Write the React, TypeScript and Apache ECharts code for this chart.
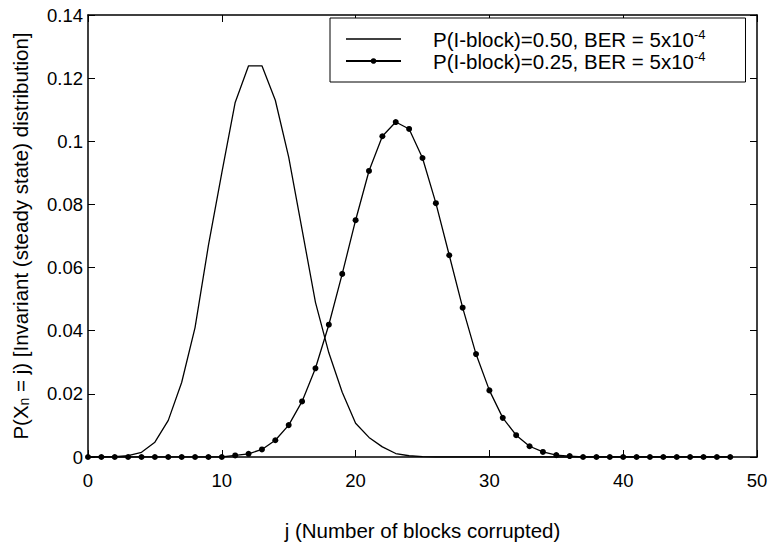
import React, { useEffect, useRef } from "react";
import * as echarts from "echarts";

const seriesNames = [
  "P(I-block)=0.50, BER = 5x10^-4",
  "P(I-block)=0.25, BER = 5x10^-4",
];

// j = 0..48
const jValues = [
  0, 1, 2, 3, 4, 5, 6, 7, 8, 9, 10, 11, 12, 13, 14, 15, 16, 17, 18, 19, 20, 21, 22, 23, 24,
  25, 26, 27, 28, 29, 30, 31, 32, 33, 34, 35, 36, 37, 38, 39, 40, 41, 42, 43, 44, 45, 46, 47, 48,
];

const pHalf = [
  0, 0, 0.0001, 0.0004, 0.0015, 0.0047, 0.0116, 0.0236, 0.041, 0.067, 0.09, 0.1123, 0.1239,
  0.1239, 0.113, 0.095, 0.072, 0.049, 0.033, 0.0205, 0.0107, 0.0062, 0.0032, 0.0011, 0.0004,
  0.0001, 0, 0, 0, 0, 0, 0, 0, 0, 0, 0, 0, 0, 0, 0, 0, 0, 0, 0, 0, 0, 0, 0, 0,
];

const pQuarter = [
  0, 0, 0, 0, 0, 0, 0, 0, 0, 0, 0, 0.0005, 0.001, 0.0024, 0.0053, 0.0101, 0.0176, 0.0281,
  0.0419, 0.058, 0.075, 0.0906, 0.1016, 0.1061, 0.1039, 0.0947, 0.0804, 0.0639, 0.0473,
  0.0326, 0.0211, 0.0124, 0.0069, 0.0034, 0.0016, 0.0006, 0.0003, 0, 0, 0, 0, 0, 0, 0, 0, 0,
  0, 0, 0,
];

const xTicks = [0, 10, 20, 30, 40, 50];
const yTicks = ["0", "0.02", "0.04", "0.06", "0.08", "0.1", "0.12", "0.14"];

const FONT = "'Liberation Sans', Arial, Helvetica, sans-serif";

export default function App() {
  const ref = useRef<HTMLDivElement>(null);
  useEffect(() => {
    if (!ref.current) return;
    const chart = echarts.init(ref.current, undefined, { renderer: "svg" });
    const axisCommon = {
      axisLine: { show: true, onZero: false, lineStyle: { color: "#000", width: 1.5 } },
      axisTick: { show: true, inside: true, length: 7, lineStyle: { color: "#000", width: 1 } },
      splitLine: { show: false },
    };
    chart.setOption({
      animation: false,
      backgroundColor: "#fff",
      textStyle: { fontFamily: FONT },
      grid: { left: 88, right: 16, top: 15, bottom: 89, containLabel: false },
      legend: {
        orient: "vertical",
        left: 330,
        top: 18,
        padding: [10, 40, 10, 15],
        itemGap: 0,
        itemWidth: 55,
        itemHeight: 7,
        backgroundColor: "#fff",
        borderColor: "#000",
        borderWidth: 1,
        borderRadius: 0,
        data: [
          {
            name: seriesNames[0],
            itemStyle: { color: "rgba(0,0,0,0)", borderColor: "rgba(0,0,0,0)", borderWidth: 0 },
            lineStyle: { color: "#000", width: 1.3 },
          },
          { name: seriesNames[1] },
        ],
        formatter: (name: string) => {
          const parts = name.split("^");
          return parts[0] + "{sup|" + parts[1] + "}";
        },
        textStyle: {
          fontFamily: FONT,
          fontSize: 20.5,
          color: "#000",
          padding: [0, 0, 0, 27],
          lineHeight: 22,
          rich: {
            sup: { fontFamily: FONT, fontSize: 13, color: "#000", verticalAlign: "top", lineHeight: 14 },
          },
        },
      },
      xAxis: [
        {
          type: "value",
          min: 0,
          max: 50,
          interval: 10,
          position: "bottom",
          ...axisCommon,
          axisLabel: {
            color: "#000",
            fontFamily: FONT,
            fontSize: 18.5,
            margin: 14,
            formatter: (v: number) => String(xTicks[xTicks.indexOf(v)] ?? v),
          },
          name: "j (Number of blocks corrupted)",
          nameLocation: "middle",
          nameGap: 63,
          nameTextStyle: { color: "#000", fontFamily: FONT, fontSize: 20.5 },
        },
        {
          type: "value",
          min: 0,
          max: 50,
          interval: 10,
          position: "top",
          ...axisCommon,
          axisLabel: { show: false },
        },
      ],
      yAxis: [
        {
          type: "value",
          min: 0,
          max: 0.14,
          interval: 0.02,
          position: "left",
          ...axisCommon,
          axisLabel: {
            color: "#000",
            fontFamily: FONT,
            fontSize: 18.5,
            margin: 5,
            formatter: (v: number) => yTicks[Math.round(v / 0.02)] ?? String(v),
          },
          name: "P(X{sub|n} = j) [Invariant (steady state) distribution]",
          nameLocation: "middle",
          nameRotate: 90,
          nameGap: 57,
          nameTextStyle: {
            color: "#000",
            fontFamily: FONT,
            fontSize: 20.5,
            rich: {
              sub: { fontFamily: FONT, fontSize: 14, color: "#000", verticalAlign: "bottom", padding: [8, 0, 0, 0] },
            },
          },
        },
        {
          type: "value",
          min: 0,
          max: 0.14,
          interval: 0.02,
          position: "right",
          ...axisCommon,
          axisLabel: { show: false },
        },
      ],
      series: [
        {
          name: seriesNames[0],
          type: "line",
          xAxisIndex: 0,
          yAxisIndex: 0,
          data: jValues.map((j, i) => [j, pHalf[i]]),
          symbol: "none",
          showSymbol: false,
          lineStyle: { color: "#000", width: 1.3 },
          itemStyle: { color: "#000" },
        },
        {
          name: seriesNames[1],
          type: "line",
          xAxisIndex: 0,
          yAxisIndex: 0,
          data: jValues.map((j, i) => [j, pQuarter[i]]),
          symbol: "circle",
          symbolSize: 6,
          showSymbol: true,
          lineStyle: { color: "#000", width: 1.3 },
          itemStyle: { color: "#000" },
        },
      ],
    });
    return () => chart.dispose();
  }, []);
  return (
    <div
      ref={ref}
      style={{ position: "fixed", left: 0, top: 0, width: 773, height: 546, background: "#fff" }}
    />
  );
}
